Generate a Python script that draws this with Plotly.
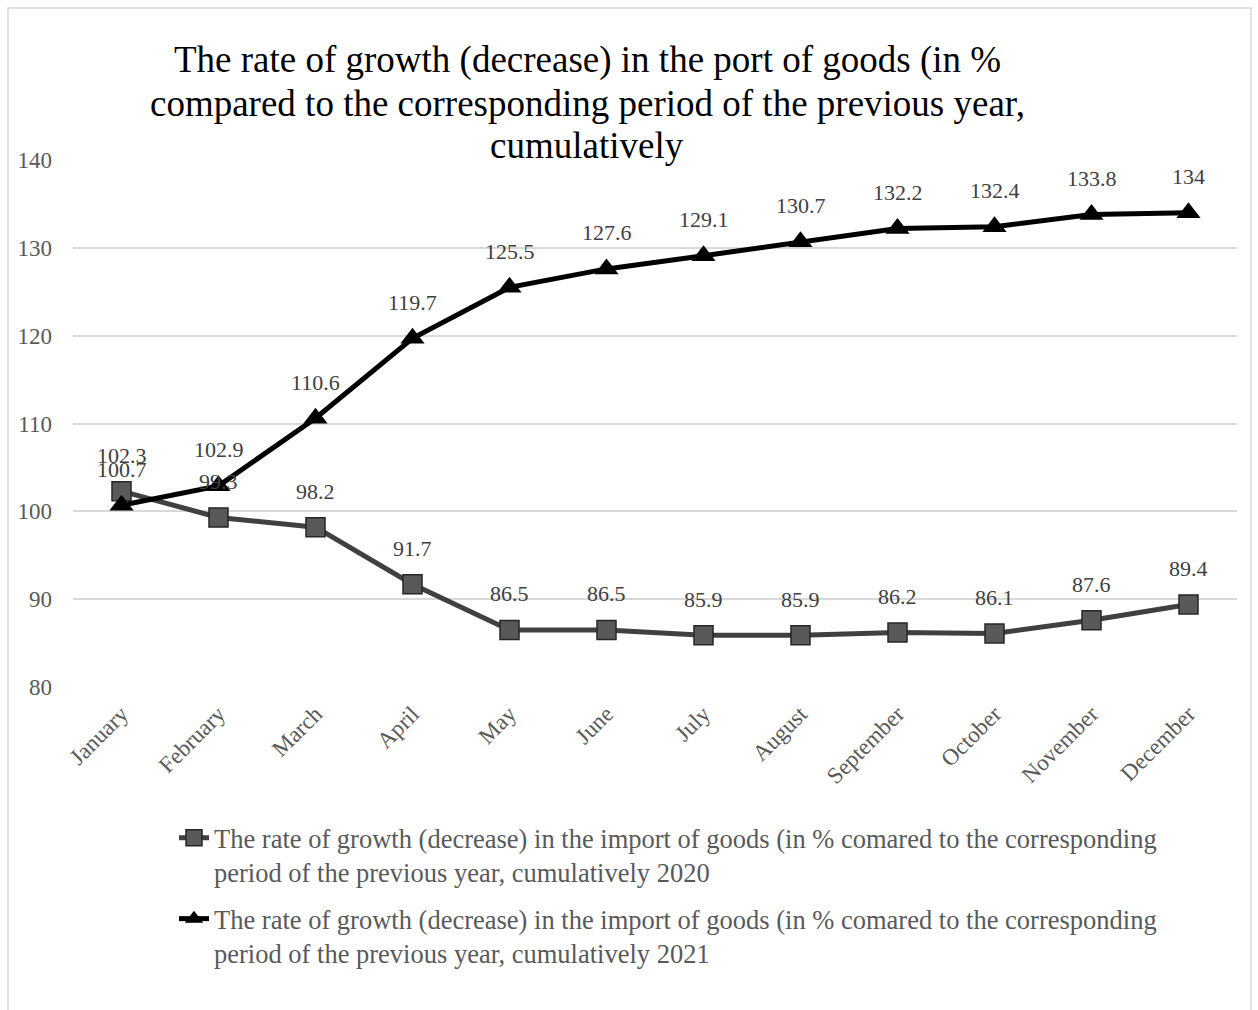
import plotly.graph_objects as go

months = ["January", "February", "March", "April", "May", "June", "July",
          "August", "September", "October", "November", "December"]
imp_2020 = [102.3, 99.3, 98.2, 91.7, 86.5, 86.5, 85.9, 85.9, 86.2, 86.1, 87.6, 89.4]
imp_2021 = [100.7, 102.9, 110.6, 119.7, 125.5, 127.6, 129.1, 130.7, 132.2, 132.4, 133.8, 134]
name_2020 = ("The rate of growth (decrease) in the import of goods (in % comared to the corresponding<br>"
             "period of the previous year, cumulatively 2020")
name_2021 = ("The rate of growth (decrease) in the import of goods (in % comared to the corresponding<br>"
             "period of the previous year, cumulatively 2021")
title_lines = ["The rate of growth (decrease) in the port of goods (in %",
               "compared to the corresponding period of the previous year,",
               "cumulatively"]

FONT = "Liberation Serif, Times New Roman, serif"
W, H = 1258, 1010
L, R, T, B = 73, 21, 160, 323
PW, PH = W - L - R, H - T - B


def px_x(x):
    return (x - L) / PW


def px_y(y):
    return (H - B - y) / PH


fig = go.Figure()
fig.add_trace(go.Scatter(
    x=months, y=imp_2020, name=name_2020, legendgroup="a",
    mode="lines+markers",
    line=dict(color="#404040", width=5),
    marker=dict(symbol="square", size=19, color="#595959", line=dict(color="#262626", width=1.5)),
))
fig.add_trace(go.Scatter(
    x=months, y=imp_2021, name=name_2021, legendgroup="b",
    mode="lines+markers",
    line=dict(color="#000000", width=5),
    marker=dict(symbol="triangle-up", size=21, color="#000000"),
))

annotations = []
for series in (imp_2020, imp_2021):
    for m, v in zip(months, series):
        annotations.append(dict(x=m, y=v, xref="x", yref="y", text=f"{v:g}", showarrow=False,
                                yshift=36, yanchor="middle", xanchor="center",
                                font=dict(family=FONT, size=22, color="#404040")))

title_centers = [60, 103, 146]
for line, yc in zip(title_lines, title_centers):
    annotations.append(dict(x=px_x(587), y=px_y(yc), xref="paper", yref="paper", text=line,
                            showarrow=False, xanchor="center", yanchor="middle",
                            font=dict(family=FONT, size=37, color="#000000")))

fig.update_layout(
    width=W, height=H,
    margin=dict(l=L, r=R, t=T, b=B),
    paper_bgcolor="white", plot_bgcolor="white",
    font=dict(family=FONT, color="#595959"),
    xaxis=dict(type="category", range=[-0.5, 11.5], showgrid=False, showline=False,
               ticks="", tickangle=-45, ticklabelstandoff=8,
               tickfont=dict(family=FONT, size=23, color="#595959")),
    yaxis=dict(range=[80, 140], dtick=10, showgrid=True, gridcolor="#d9d9d9", gridwidth=1.5,
               zeroline=False, showline=False, ticks="", ticklen=0, ticklabelstandoff=20,
               tickfont=dict(family=FONT, size=23, color="#595959")),
    showlegend=True,
    legend=dict(x=px_x(174), y=px_y(814), xanchor="left", yanchor="top", orientation="v",
                traceorder="grouped", tracegroupgap=9, valign="top",
                font=dict(family=FONT, size=26.5, color="#595959"), bgcolor="rgba(0,0,0,0)"),
    annotations=annotations,
    shapes=[dict(type="rect", xref="paper", yref="paper",
                 x0=px_x(8), x1=px_x(1251), y0=px_y(1030), y1=px_y(8),
                 line=dict(color="#d9d9d9", width=1.5), fillcolor="rgba(0,0,0,0)", layer="below")],
)

fig.write_html("out.html")
